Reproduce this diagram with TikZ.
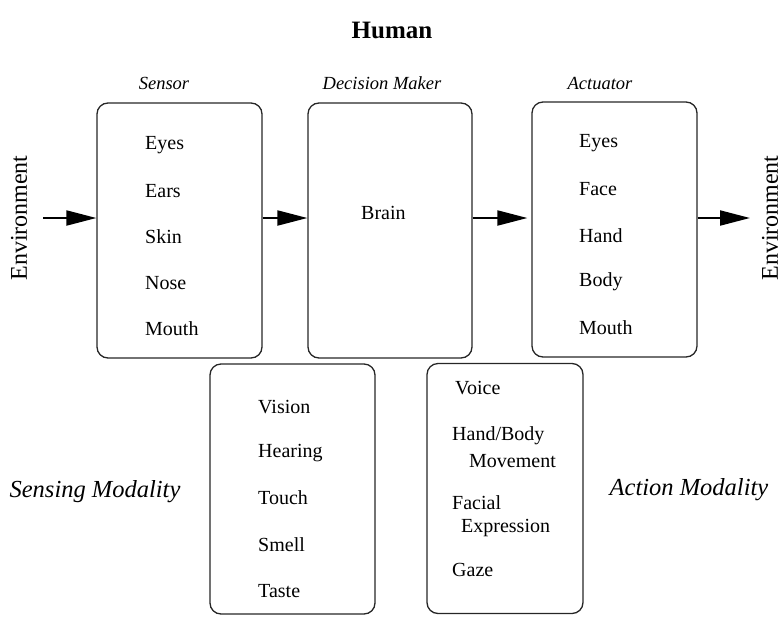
\documentclass[tikz,border=0pt]{standalone}
\usepackage{fontspec}
\setmainfont{Liberation Serif}
\usetikzlibrary{arrows.meta}
\tikzset{
  box/.style={draw=black!85, line width=1.3pt, rounded corners=11pt, inner sep=0pt},
  item/.style={anchor=west, inner sep=0pt, font=\fontsize{20}{23}\selectfont},
  toplbl/.style={inner sep=0pt, font=\fontsize{18.5}{22}\selectfont\itshape},
  modlbl/.style={inner sep=0pt, font=\fontsize{24.5}{28}\selectfont\itshape},
  envlbl/.style={inner sep=0pt, rotate=90, font=\fontsize{24}{28}\selectfont},
  arr/.style={line width=2pt, -{Triangle[length=30pt,width=15pt]}}
}
\begin{document}
\begin{tikzpicture}[x=1pt,y=1pt]
\useasboundingbox (0,0) rectangle (783,-616);
% title
\node[inner sep=0pt, font=\fontsize{25}{30}\selectfont\bfseries] (title) at (392,-30) {Human};
% top labels
\node[toplbl] (lsensor) at (164,-83) {Sensor};
\node[toplbl] (ldecision) at (382,-83) {Decision Maker};
\node[toplbl] (lactuator) at (600,-83) {Actuator};
% boxes
\node[box, minimum width=165pt, minimum height=255pt] (sensor) at (179.5,-230.5) {};
\node[box, minimum width=164pt, minimum height=255pt] (decision) at (390,-230.5) {};
\node[box, minimum width=165pt, minimum height=255pt] (actuator) at (614.5,-229.5) {};
\node[box, minimum width=165pt, minimum height=250pt] (sensing) at (292.5,-489) {};
\node[box, minimum width=156pt, minimum height=250pt] (action) at (505,-488.5) {};
% sensor items
\node[item] (s1) at (145,-145) {Eyes};
\node[item] (s2) at (145,-191) {Ears};
\node[item] (s3) at (145,-237) {Skin};
\node[item] (s4) at (145,-283) {Nose};
\node[item] (s5) at (145,-329) {Mouth};
% decision
\node[item] (brain) at (361,-213) {Brain};
% actuator items
\node[item] (a1) at (579,-143) {Eyes};
\node[item] (a2) at (579,-189) {Face};
\node[item] (a3) at (579,-236) {Hand};
\node[item] (a4) at (579,-282) {Body};
\node[item] (a5) at (579,-328) {Mouth};
% sensing modality items
\node[item] (m1) at (258,-407) {Vision};
\node[item] (m2) at (258,-453) {Hearing};
\node[item] (m3) at (258,-498) {Touch};
\node[item] (m4) at (258,-545) {Smell};
\node[item] (m5) at (258,-591) {Taste};
% action modality items
\node[item] (v1) at (455,-388) {Voice};
\node[item] (v2) at (452,-436) {Hand/Body};
\node[item] (v3) at (469,-461) {Movement};
\node[item] (v4) at (452,-503) {Facial};
\node[item] (v5) at (461,-528) {Expression};
\node[item] (v6) at (452,-570) {Gaze};
% modality labels
\node[modlbl] (lsens) at (95,-492) {Sensing Modality};
\node[modlbl] (lact) at (689,-490) {Action Modality};
% environment labels
\node[envlbl] (envL) at (19,-218) {Environment};
\node[envlbl] (envR) at (770,-218) {Environment};
% arrows
\coordinate (inL) at (43,-218);
\coordinate (outR) at (750,-218);
\draw[arr] (inL) -- (inL -| sensor.west);
\draw[arr] (sensor.east |- inL) -- (decision.west |- inL);
\draw[arr] (decision.east |- inL) -- ([xshift=-4pt]actuator.west |- inL);
\draw[arr] (actuator.east |- inL) -- (outR);
\end{tikzpicture}
\end{document}
